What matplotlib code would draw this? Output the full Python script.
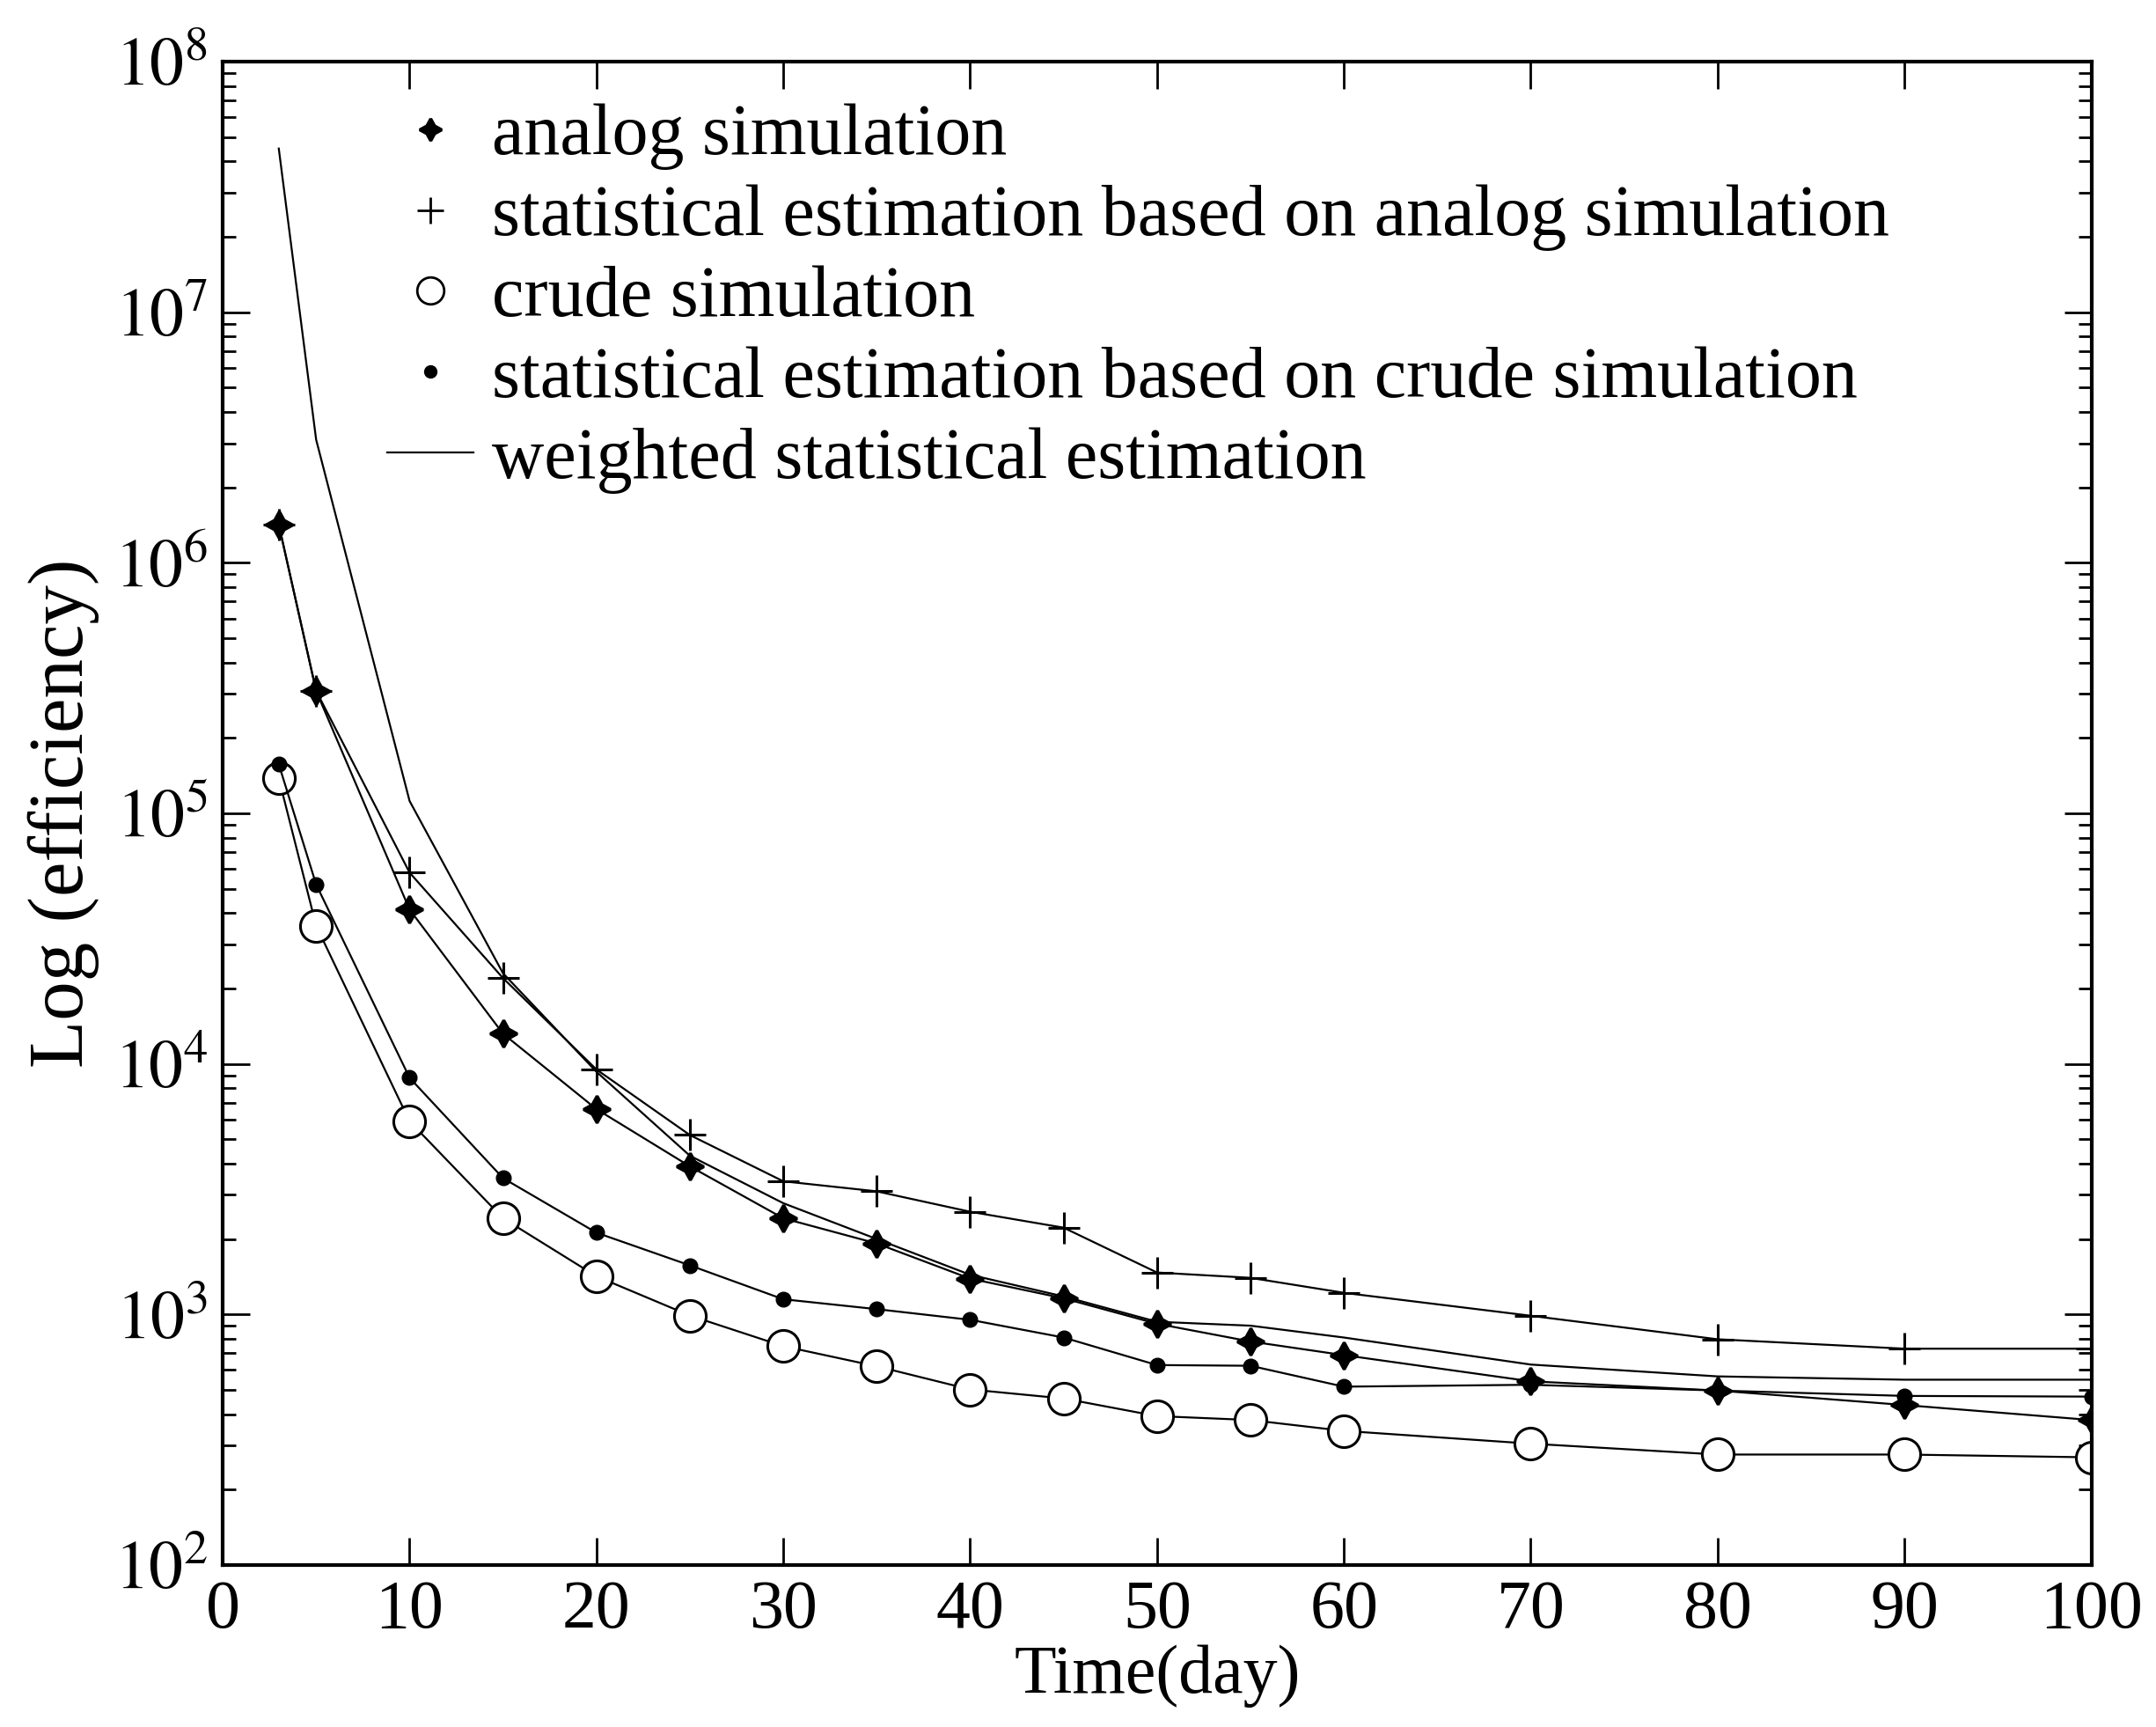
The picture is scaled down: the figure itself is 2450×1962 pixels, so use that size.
import numpy as np
import matplotlib
matplotlib.use("Agg")
import matplotlib.pyplot as plt
from matplotlib.lines import Line2D
from matplotlib.ticker import FixedLocator, MultipleLocator, NullFormatter

plt.rcParams['font.family'] = ['Liberation Serif', 'DejaVu Serif']
plt.rcParams['mathtext.fontset'] = 'stix'

# days
days = [3, 5, 10, 15, 20, 25, 30, 35, 40, 45, 50, 55, 60, 70, 80, 90, 100]

analog = [1.42e6, 3.08e5, 4.13e4, 1.32e4, 6.6e3, 3.9e3, 2.42e3, 1.92e3, 1.39e3,
          1.16e3, 918, 780, 688, 541, 497, 435, 379]
stat_analog = [1.42e6, 3.08e5, 5.8e4, 2.2e4, 9.5e3, 5.2e3, 3.4e3, 3.1e3, 2.57e3,
               2.22e3, 1.47e3, 1.40e3, 1.22e3, 988, 796, 730, 730]
crude = [1.38e5, 3.56e4, 5.9e3, 2.42e3, 1.42e3, 990, 747, 621, 502,
         462, 393, 379, 343, 305, 276, 276, 269]
stat_crude = [1.57e5, 5.2e4, 8.8e3, 3.5e3, 2.12e3, 1.57e3, 1.15e3, 1.05e3, 952,
              809, 628, 624, 515, 524, 497, 473, 470]
weighted = [4.5e7, 3.1e6, 1.12e5, 2.3e4, 9.3e3, 4.3e3, 2.78e3, 2.0e3, 1.44e3,
            1.18e3, 935, 902, 809, 631, 566, 549, 549]

labels = ["analog simulation",
          "statistical estimation based on analog simulation",
          "crude simulation",
          "statistical estimation based on crude simulation",
          "weighted statistical estimation"]

decades = [2, 3, 4, 5, 6, 7, 8]

fig = plt.figure(figsize=(24.5, 19.62), dpi=100)
ax = fig.add_axes([0.1033, 0.0938, 0.8667, 0.8705])

lw = 1.6
ax.plot(days, weighted, color='black', lw=lw)
ax.plot(days, stat_analog, color='black', lw=lw, marker='+', ms=26, mew=2.2)
ax.plot(days, analog, color='black', lw=lw, marker=(4, 1, 0), ms=22, mew=2.5)
ax.plot(days, crude, color='black', lw=lw, marker='o', ms=26, mfc='white', mew=2.2)
ax.plot(days, stat_crude, color='black', lw=lw, marker='o', ms=12)

ax.set_yscale('log')
ax.set_xlim(0, 100)
ax.set_ylim(1e2, 1e8)
ax.xaxis.set_major_locator(MultipleLocator(10))
ax.set_yticks([10.0 ** d for d in decades])
ax.set_yticklabels([r'$10^{%d}$' % d for d in decades])
minor = [m * 10.0 ** d for d in decades[:-1] for m in range(2, 10)]
ax.yaxis.set_minor_locator(FixedLocator(minor))
ax.yaxis.set_minor_formatter(NullFormatter())
ax.tick_params(which='both', direction='in', top=True, right=True, labelsize=56, width=2)
ax.tick_params(which='major', length=22, pad=12)
ax.tick_params(which='minor', length=11)
for s in ax.spines.values():
    s.set_linewidth(3)

ax.set_xlabel("Time(day)", fontsize=56, labelpad=2)
ax.set_ylabel("Log (efficiency)", fontsize=64, labelpad=12)

handles = [
    Line2D([], [], color='black', ls='none', marker=(4, 1, 0), ms=18, mew=2.5),
    Line2D([], [], color='black', ls='none', marker='+', ms=22, mew=2),
    Line2D([], [], color='black', ls='none', marker='o', ms=22, mfc='white', mew=2),
    Line2D([], [], color='black', ls='none', marker='o', ms=10),
    Line2D([], [], color='black', lw=lw),
]
ax.legend(handles, labels, loc='upper left', bbox_to_anchor=(0.088, 0.972),
          frameon=False, fontsize=59, handlelength=1.2, handletextpad=0.25,
          labelspacing=0.2, borderpad=0, borderaxespad=0)

fig.savefig("out.png", dpi=100)
